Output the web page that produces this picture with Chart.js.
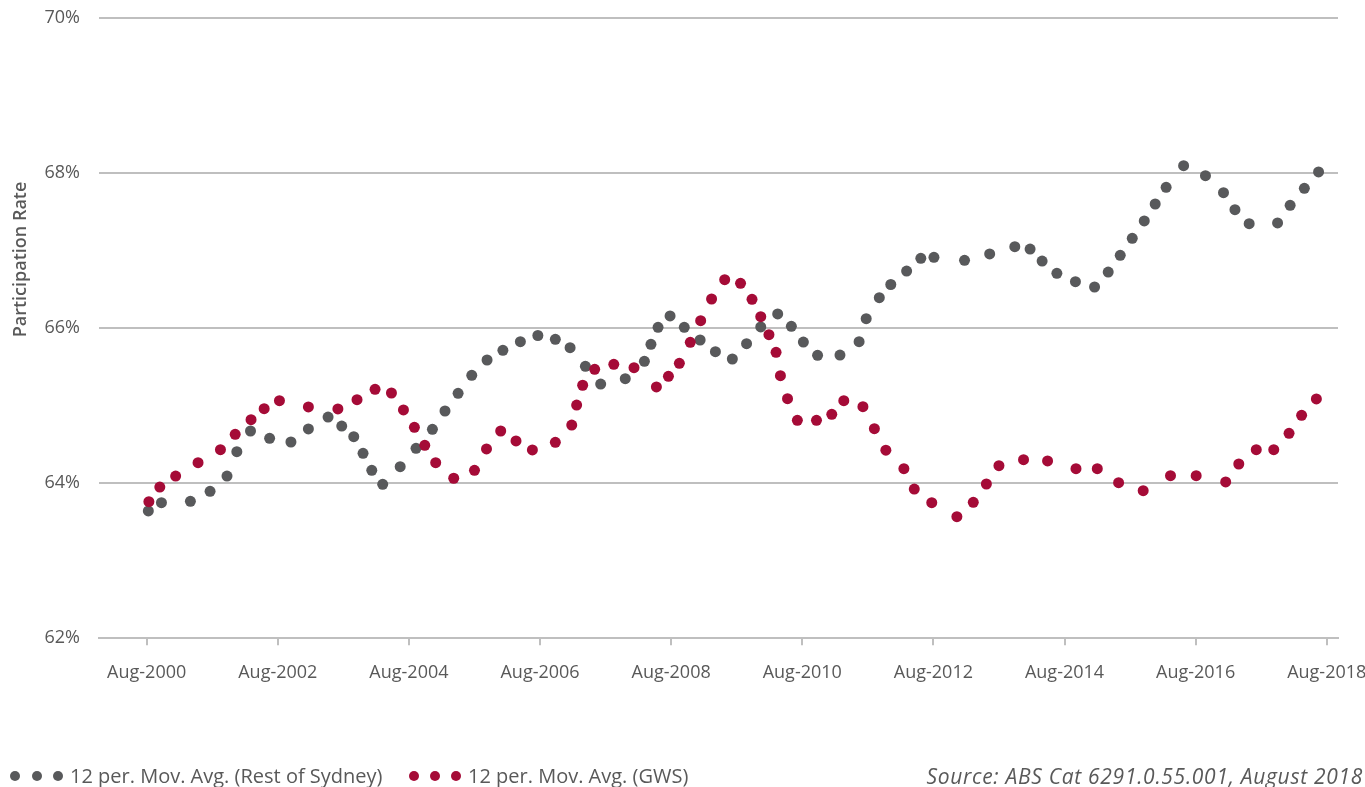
<!DOCTYPE html>
<html>
<head>
<meta charset="utf-8">
<script src="https://cdn.jsdelivr.net/npm/chart.js@4.4.0/dist/chart.umd.min.js"></script>
<style>
html,body{margin:0;padding:0;background:#fff;}
#wrap{position:relative;width:1365px;height:787px;overflow:hidden;}
#c{position:absolute;left:0;top:0;}
.txt{position:absolute;top:764px;height:24px;line-height:24px;font-family:"Open Sans",sans-serif;font-size:20px;color:#595959;white-space:nowrap;}
.dot{position:absolute;top:771px;width:10px;height:10px;border-radius:50%;}
</style>
</head>
<body>
<div id="wrap">
<canvas id="c" width="1365" height="787"></canvas>
<span class="dot" style="left:10px;background:#58595B"></span>
<span class="dot" style="left:32px;background:#58595B"></span>
<span class="dot" style="left:53px;background:#58595B"></span>
<div class="txt" id="lg1" style="left:70px"></div>
<span class="dot" style="left:409px;background:#A50B37"></span>
<span class="dot" style="left:430px;background:#A50B37"></span>
<span class="dot" style="left:451px;background:#A50B37"></span>
<div class="txt" id="lg2" style="left:468px"></div>
<div class="txt" id="src" style="right:2px;font-style:italic;font-size:21px;letter-spacing:0.7px"></div>
</div>
<script>
// Months since Aug-2000 for each plotted dot
const restMonths = [0.3,2.7,8.0,11.6,14.7,16.5,19.0,22.5,26.4,29.6,33.2,35.7,37.9,39.6,41.2,43.2,46.4,49.3,52.3,54.6,57.0,59.5,62.3,65.2,68.4,71.6,74.8,77.5,80.3,83.1,87.6,91.1,92.3,93.6,95.8,98.4,101.3,104.1,107.2,109.8,112.4,115.5,118.0,120.2,122.8,126.9,130.4,131.7,134.1,136.2,139.1,141.7,144.1,149.7,154.3,158.9,161.7,163.9,166.6,170.0,173.5,176.0,178.2,180.4,182.6,184.6,186.6,189.8,193.8,197.1,199.2,201.8,207.0,209.3,211.9,214.5];
const restValues = [63.643,63.750,63.768,63.897,64.094,64.408,64.675,64.581,64.533,64.701,64.855,64.739,64.601,64.387,64.168,63.987,64.214,64.452,64.697,64.933,65.161,65.394,65.591,65.716,65.827,65.907,65.858,65.750,65.510,65.281,65.350,65.574,65.794,66.013,66.159,66.013,65.849,65.698,65.604,65.801,66.017,66.185,66.026,65.823,65.652,65.655,65.827,66.124,66.395,66.565,66.739,66.903,66.916,66.877,66.959,67.053,67.023,66.868,66.710,66.601,66.533,66.726,66.942,67.161,67.385,67.604,67.819,68.098,67.969,67.750,67.530,67.350,67.359,67.587,67.806,68.017];
const gwsMonths = [0.4,2.4,5.3,9.4,13.5,16.2,19.1,21.5,24.3,29.6,35.0,38.5,41.8,44.8,47.0,49.0,50.9,52.9,56.2,60.0,62.2,64.8,67.6,70.6,74.8,77.8,78.7,79.8,82.0,85.5,89.2,93.3,95.5,97.5,99.5,101.4,103.4,105.8,108.7,110.8,112.4,113.9,115.2,116.0,117.3,119.1,122.6,125.4,127.6,131.1,133.2,135.3,138.6,140.5,143.7,148.3,151.3,153.7,156.0,160.5,164.9,170.1,174.0,177.9,182.4,187.4,192.1,197.5,199.9,203.1,206.3,209.1,211.4,214.1];
const gwsValues = [63.763,63.952,64.094,64.266,64.434,64.632,64.821,64.963,65.066,64.985,64.959,65.079,65.213,65.165,64.946,64.723,64.490,64.266,64.065,64.168,64.443,64.675,64.546,64.430,64.529,64.752,65.010,65.265,65.471,65.535,65.492,65.243,65.381,65.548,65.819,66.098,66.378,66.627,66.581,66.374,66.150,65.917,65.690,65.388,65.092,64.813,64.813,64.890,65.066,64.988,64.705,64.427,64.188,63.926,63.750,63.569,63.755,63.991,64.227,64.305,64.288,64.188,64.188,64.008,63.905,64.098,64.098,64.017,64.249,64.434,64.434,64.645,64.877,65.088];
const tickMonths = [0,24,48,72,96,120,144,168,192,216];
const tickLabels = ['Aug-2000','Aug-2002','Aug-2004','Aug-2006','Aug-2008','Aug-2010','Aug-2012','Aug-2014','Aug-2016','Aug-2018'];
const seriesNames = ['12 per. Mov. Avg. (Rest of Sydney)','12 per. Mov. Avg. (GWS)'];
const yTitle = 'Participation Rate';
const sourceText = 'Source: ABS Cat 6291.0.55.001, August 2018';

document.getElementById('lg1').textContent = seriesNames[0];
document.getElementById('lg2').textContent = seriesNames[1];
document.getElementById('src').textContent = sourceText;

const toPts = (xs, ys) => xs.map((x, i) => ({x: x, y: ys[i]}));
const TXT = '#595959';

const yTitlePlugin = {
  id: 'yTitlePlugin',
  afterDraw(chart) {
    const ctx = chart.ctx;
    ctx.save();
    ctx.translate(26, 259.5);
    ctx.rotate(-Math.PI / 2);
    ctx.font = '600 18px "Open Sans"';
    ctx.fillStyle = TXT;
    ctx.textAlign = 'center';
    ctx.textBaseline = 'alphabetic';
    ctx.fillText(yTitle, 0, 0);
    ctx.restore();
  }
};

new Chart(document.getElementById('c'), {
  type: 'scatter',
  data: {
    datasets: [
      {label: seriesNames[1], data: toPts(gwsMonths, gwsValues), backgroundColor: '#A50B37', pointRadius: 5.5, pointBorderWidth: 0, showLine: false, order: 0},
      {label: seriesNames[0], data: toPts(restMonths, restValues), backgroundColor: '#58595B', pointRadius: 5.5, pointBorderWidth: 0, showLine: false, order: 1}
    ]
  },
  options: {
    responsive: false,
    animation: false,
    events: [],
    layout: {padding: {left: 0, right: 27, top: 18.3, bottom: 88.7}},
    plugins: {legend: {display: false}, tooltip: {enabled: false}},
    scales: {
      x: {
        type: 'linear', min: -8.73, max: 218.06,
        afterBuildTicks: s => { s.ticks = tickMonths.map(v => ({value: v})); },
        afterFit: s => { s.height = 60; s.paddingLeft = 0; s.paddingRight = 0; },
        ticks: {
          autoSkip: false, maxRotation: 0, padding: 17, color: TXT,
          font: {family: 'Open Sans', size: 18},
          callback: v => { const i = tickMonths.indexOf(v); return i >= 0 ? tickLabels[i] : ''; }
        },
        grid: {drawOnChartArea: false, drawTicks: true, tickLength: 7, color: '#BFBFBF', lineWidth: 2},
        border: {display: true, color: '#BFBFBF', width: 2}
      },
      y: {
        min: 62, max: 70,
        afterFit: s => { s.width = 99; s.paddingTop = 0; s.paddingBottom = 0; },
        ticks: {stepSize: 2, padding: 19, color: TXT, font: {family: 'Open Sans', size: 18}, callback: v => v + '%'},
        grid: {color: '#BFBFBF', lineWidth: 2, drawTicks: false},
        border: {display: false}
      }
    }
  },
  plugins: [yTitlePlugin]
});
</script>
</body>
</html>
